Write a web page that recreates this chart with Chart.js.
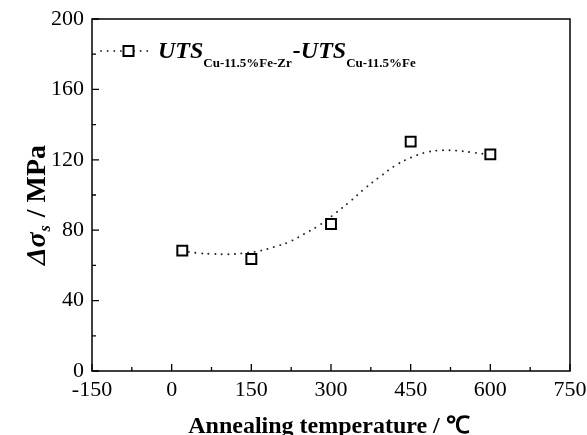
<!DOCTYPE html>
<html><head><meta charset="utf-8">
<script src="https://cdn.jsdelivr.net/npm/chart.js@4/dist/chart.umd.min.js"></script>
<style>html,body{margin:0;padding:0;background:#fff;}#wrap{width:587px;height:435px;overflow:hidden;}</style>
</head><body><div id="wrap"><canvas id="c" width="587" height="435"></canvas></div>
<script>
// measured points
const temperatures = [20, 150, 300, 450, 600];
const deltaUTS = [68.4, 63.6, 83.5, 130.3, 123.1];
// dotted fit curve
const fitTemperatures = [20, 50, 78, 106, 134, 165, 193, 221, 249, 279, 308, 337, 364, 393, 422, 450, 479, 508, 537, 565, 600];
const fitDeltaUTS = [68.2, 67.0, 66.5, 66.3, 66.9, 68.2, 70.5, 73.3, 77.8, 83.0, 89.6, 96.6, 103.8, 110.6, 116.9, 121.2, 124.2, 125.4, 125.2, 124.2, 122.9];
// axis ticks
const xTickValues = [-150, 0, 150, 300, 450, 600, 750];
const yTickValues = [0, 40, 80, 120, 160, 200];
// texts
const xTitle = 'Annealing temperature / \u2103';
const yTitleParts = ['\u0394\u03C3', 's', ' / MPa'];
const legendParts = ['UTS', 'Cu-11.5%Fe-Zr', '-UTS', 'Cu-11.5%Fe'];

const SERIF = '"Liberation Serif", "Times New Roman", serif';

const decor = {
  id: 'decor',
  afterDatasetsDraw(chart) {
    const ctx = chart.ctx, a = chart.chartArea;
    const xs = chart.scales.x, ys = chart.scales.y;
    ctx.save();
    ctx.strokeStyle = '#000';
    ctx.lineWidth = 1.5;
    ctx.strokeRect(a.left, a.top, a.right - a.left, a.bottom - a.top);
    // inward ticks
    ctx.lineWidth = 1.3;
    ctx.beginPath();
    for (let i = 0; i < xTickValues.length; i++) {
      const v = xTickValues[i];
      const px = xs.getPixelForValue(v);
      ctx.moveTo(px, a.bottom); ctx.lineTo(px, a.bottom - 7);
      if (i < xTickValues.length - 1) {
        const m = xs.getPixelForValue((v + xTickValues[i + 1]) / 2);
        ctx.moveTo(m, a.bottom); ctx.lineTo(m, a.bottom - 4);
      }
    }
    for (let i = 0; i < yTickValues.length; i++) {
      const v = yTickValues[i];
      const py = ys.getPixelForValue(v);
      ctx.moveTo(a.left, py); ctx.lineTo(a.left + 7, py);
      if (i < yTickValues.length - 1) {
        const m = ys.getPixelForValue((v + yTickValues[i + 1]) / 2);
        ctx.moveTo(a.left, m); ctx.lineTo(a.left + 4, m);
      }
    }
    ctx.stroke();

    ctx.fillStyle = '#000';
    // x title
    ctx.font = 'bold 24px ' + SERIF;
    ctx.textAlign = 'center';
    ctx.textBaseline = 'alphabetic';
    ctx.fillText(xTitle, (a.left + a.right) / 2 - 2, 433);

    // y title (rotated)
    ctx.save();
    ctx.translate(36, (a.top + a.bottom) / 2 + 10);
    ctx.rotate(-Math.PI / 2);
    const yFonts = ['bold italic 28px ' + SERIF, 'bold italic 16px ' + SERIF, 'bold 28px ' + SERIF];
    const yDy = [0, 5, 0];
    const yGap = [0, 2, 0];
    let tot = 0; const w = [];
    for (let i = 0; i < 3; i++) { ctx.font = yFonts[i]; w[i] = ctx.measureText(yTitleParts[i]).width + yGap[i]; tot += w[i]; }
    let xx = -tot / 2;
    ctx.textAlign = 'left';
    for (let i = 0; i < 3; i++) { ctx.font = yFonts[i]; ctx.fillText(yTitleParts[i], xx + yGap[i] / 2, 9 + yDy[i]); xx += w[i]; }
    ctx.restore();

    // legend
    const ly = 51;
    ctx.save();
    ctx.strokeStyle = '#333';
    ctx.lineWidth = 1.8;
    ctx.lineCap = 'round';
    ctx.setLineDash([0.1, 6.5]);
    ctx.beginPath(); ctx.moveTo(101, ly); ctx.lineTo(150, ly); ctx.stroke();
    ctx.restore();
    ctx.save();
    ctx.fillStyle = '#fff'; ctx.strokeStyle = '#000'; ctx.lineWidth = 2;
    ctx.fillRect(123.5, ly - 5, 10, 10); ctx.strokeRect(123.5, ly - 5, 10, 10);
    ctx.restore();
    const lFonts = ['bold italic 24px ' + SERIF, 'bold 13px ' + SERIF, 'bold italic 24px ' + SERIF, 'bold 13px ' + SERIF];
    const lBase = [58, 67, 58, 67];
    let lx = 158;
    ctx.textAlign = 'left';
    for (let i = 0; i < 4; i++) {
      ctx.font = lFonts[i];
      ctx.fillText(legendParts[i], lx, lBase[i]);
      lx += ctx.measureText(legendParts[i]).width + (i % 2 === 1 ? 1 : 0);
    }
    ctx.restore();
  }
};

new Chart(document.getElementById('c'), {
  type: 'scatter',
  data: {
    datasets: [
      {
        data: temperatures.map((t, i) => ({ x: t, y: deltaUTS[i] })),
        pointStyle: 'rect', pointRadius: 7, pointHoverRadius: 7,
        borderColor: '#000', backgroundColor: '#fff', pointBorderWidth: 2,
        showLine: false, order: 1
      },
      {
        data: fitTemperatures.map((t, i) => ({ x: t, y: fitDeltaUTS[i] })),
        showLine: true, pointRadius: 0, borderColor: '#222', borderWidth: 1.9,
        borderDash: [0.1, 6.5], borderCapStyle: 'round', tension: 0.4,
        fill: false, order: 2
      }
    ]
  },
  options: {
    responsive: false, animation: false, devicePixelRatio: 1,
    layout: { padding: { top: 19, right: 17, left: 0, bottom: 0 } },
    plugins: { legend: { display: false }, tooltip: { enabled: false } },
    scales: {
      x: {
        type: 'linear', min: -150, max: 750,
        afterBuildTicks: s => { s.ticks = xTickValues.map(v => ({ value: v })); },
        afterFit: s => { s.height = 64; },
        ticks: { font: { family: SERIF, size: 22 }, color: '#000', padding: -2, maxRotation: 0, autoSkip: false },
        grid: { display: false }, border: { display: false }
      },
      y: {
        min: 0, max: 200,
        afterBuildTicks: s => { s.ticks = yTickValues.map(v => ({ value: v })); },
        afterFit: s => { s.width = 92; },
        ticks: { font: { family: SERIF, size: 22 }, color: '#000', padding: 0 },
        grid: { display: false }, border: { display: false }
      }
    }
  },
  plugins: [decor]
});
</script></body></html>
